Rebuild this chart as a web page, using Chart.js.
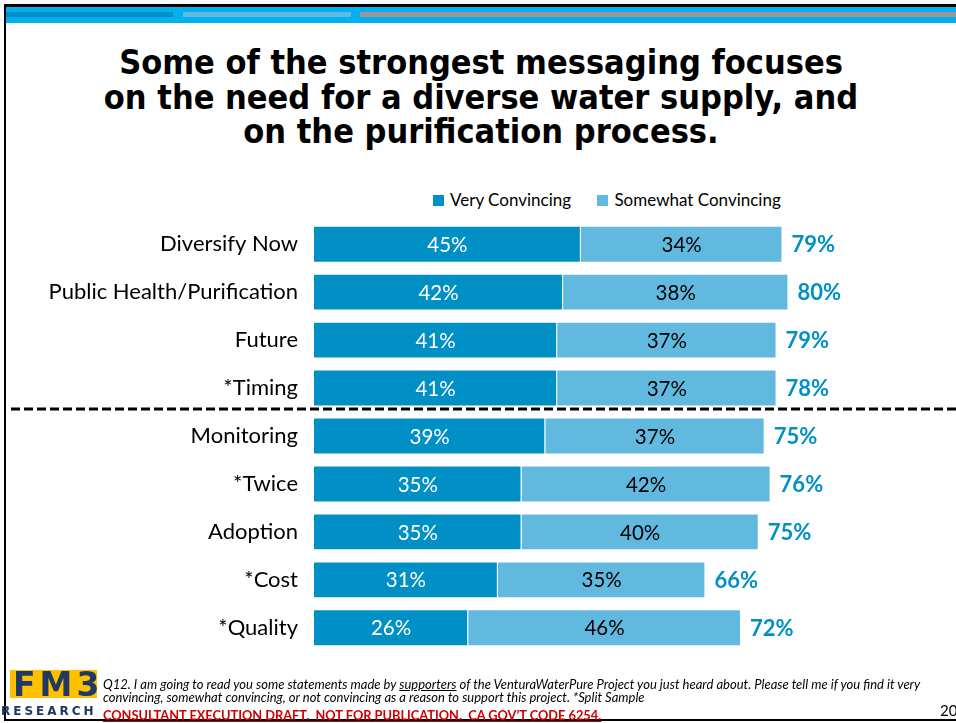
<!DOCTYPE html>
<html>
<head>
<meta charset="utf-8">
<script src="https://cdn.jsdelivr.net/npm/chart.js@4.4.1/dist/chart.umd.min.js"></script>
<style>
  body { margin: 0; background: #fff; }
  #page { position: relative; width: 956px; height: 723px; overflow: hidden; background: #fff; font-family: Lato, sans-serif; }
  .topline { position: absolute; left: 4px; top: 4px; width: 952px; height: 3px; background: #000; }
  .leftline { position: absolute; left: 4px; top: 4px; width: 2px; height: 717px; background: #000; }
  .bottomline { position: absolute; left: 4px; top: 719px; width: 952px; height: 2px; background: #000; }
  .band { position: absolute; left: 6px; top: 7px; width: 950px; height: 16px; background: #00B0F0; }
  .sub { position: absolute; top: 12px; height: 5px; }
  #title { position: absolute; left: 0; top: 45px; width: 962px; text-align: center; font-family: "DejaVu Sans Condensed", "DejaVu Sans", sans-serif; font-weight: bold; font-size: 34px; line-height: 34.5px; color: #000; }
  #legend { position: absolute; left: 433px; top: 189px; font-size: 17px; color: #000; white-space: nowrap; }
  #legend span.box { display: inline-block; width: 11px; height: 11px; margin-right: 6px; vertical-align: 0px; }
  #legend span.item { margin-right: 22px; }
  #wrap { position: absolute; left: 0; top: 191px; width: 956px; height: 490px; }
  #logo { position: absolute; left: 10px; top: 670px; width: 87px; height: 28px; background: #FFC000; }
  #logo b { position: absolute; left: 3px; top: -5px; font-family: "DejaVu Sans", sans-serif; font-size: 33px; color: #1F3864; letter-spacing: 4px; }
  #research { position: absolute; left: 1px; top: 704px; font-family: "DejaVu Sans", sans-serif; font-weight: bold; font-size: 12px; color: #1F3864; letter-spacing: 3px; }
  #note { position: absolute; left: 103px; top: 678px; font-size: 13px; line-height: 13px; font-style: italic; color: #000; width: 835px; }
  #draft { position: absolute; left: 103px; top: 707px; font-size: 12.8px; font-weight: bold; color: #D00000; text-decoration: underline; }
  #pnum { position: absolute; left: 940px; top: 701px; font-size: 15px; color: #000; }
</style>
</head>
<body>
<div id="page">
  <div class="band"></div>
  <div class="sub" style="left:5px;width:168px;background:#0090C8;"></div>
  <div class="sub" style="left:183px;width:168px;background:#62BAE0;"></div>
  <div class="sub" style="left:360px;width:596px;background:#999999;"></div>
  <div class="topline"></div>
  <div class="leftline"></div>
  <div class="bottomline"></div>
  <div id="title">Some of the strongest messaging focuses<br>on the need for a diverse water supply, and<br>on the purification process.</div>
  <div id="legend">
    <span class="item"><span class="box" style="background:#0090C6"></span>Very Convincing</span>
    <span><span class="box" style="background:#62B9E0"></span>Somewhat Convincing</span>
  </div>
  <div id="wrap"><canvas id="barChart"></canvas></div>
  <div id="logo"><b>FM3</b></div>
  <div id="research">RESEARCH</div>
  <div id="note">Q12. I am going to read you some statements made by <u>supporters</u> of the VenturaWaterPure Project you just heard about. Please tell me if you find it very convincing, somewhat convincing, or not convincing as a reason to support this project. *Split Sample</div>
  <div id="draft">CONSULTANT EXECUTION DRAFT.&nbsp; NOT FOR PUBLICATION.&nbsp; CA GOV’T CODE 6254.</div>
  <div id="pnum">20</div>
</div>
<script>
var categories = ['Diversify Now', 'Public Health/Purification', 'Future', '*Timing', 'Monitoring', '*Twice', 'Adoption', '*Cost', '*Quality'];
var veryConvincing = [45, 42, 41, 41, 39, 35, 35, 31, 26];
var somewhatConvincing = [34, 38, 37, 37, 37, 42, 40, 35, 46];
var totalConvincing = [79, 80, 79, 78, 75, 76, 75, 66, 72];
var dividerAfter = 3; // dashed line below *Timing

var labelPlugin = {
    id: 'barLabels',
    afterDatasetsDraw: function (chart) {
        var ctx = chart.ctx;
        ctx.save();
        ctx.textBaseline = 'middle';
        ctx.font = '20.5px Lato, sans-serif';
        ctx.textAlign = 'center';
        chart.data.datasets.forEach(function (ds, di) {
            var meta = chart.getDatasetMeta(di);
            ctx.fillStyle = di == 0 ? '#ffffff' : '#000000';
            meta.data.forEach(function (bar, i) {
                var x = (bar.x + bar.base) / 2;
                ctx.fillText(ds.data[i] + '%', x, bar.y + 1);
            });
        });
        // totals after the bars
        var xs = chart.scales.x;
        var last = chart.getDatasetMeta(1);
        ctx.font = 'bold 22px Lato, sans-serif';
        ctx.fillStyle = '#0090C8';
        ctx.textAlign = 'left';
        last.data.forEach(function (bar, i) {
            ctx.fillText(totalConvincing[i] + '%', xs.getPixelForValue(veryConvincing[i] + somewhatConvincing[i]) + 9, bar.y + 1);
        });
        // dashed divider
        var ys = chart.scales.y;
        var yLine = (ys.getPixelForValue(dividerAfter) + ys.getPixelForValue(dividerAfter + 1)) / 2 - 3;
        ctx.strokeStyle = '#000';
        ctx.lineWidth = 3;
        ctx.setLineDash([9, 4]);
        ctx.beginPath();
        ctx.moveTo(11, yLine);
        ctx.lineTo(chart.width, yLine);
        ctx.stroke();
        ctx.restore();
    }
};

var ctx = document.getElementById('barChart').getContext('2d');
var myChart = new Chart(ctx, {
    type: 'bar',
    data: {
        labels: categories,
        datasets: [{
            label: 'Very Convincing',
            data: veryConvincing,
            backgroundColor: '#0090C6',
            borderColor: '#ffffff',
            borderWidth: 1,
            barPercentage: 0.77,
            categoryPercentage: 1
        }, {
            label: 'Somewhat Convincing',
            data: somewhatConvincing,
            backgroundColor: '#62B9E0',
            borderColor: '#ffffff',
            borderWidth: 1,
            barPercentage: 0.77,
            categoryPercentage: 1
        }]
    },
    options: {
        indexAxis: 'y',
        responsive: true,
        maintainAspectRatio: false,
        animation: false,
        layout: { padding: { top: 4, bottom: 3, right: 49 } },
        plugins: { legend: { display: false }, tooltip: { enabled: false } },
        scales: {
            x: {
                stacked: true, min: 0, max: 100, display: false
            },
            y: {
                stacked: true,
                grid: { display: false, drawTicks: false },
                border: { display: false },
                ticks: { color: '#000', font: { family: 'Lato', size: 22 }, padding: 16 },
                afterFit: function (scale) { scale.width = 314; }
            }
        }
    },
    plugins: [labelPlugin]
});
</script>
</body>
</html>
